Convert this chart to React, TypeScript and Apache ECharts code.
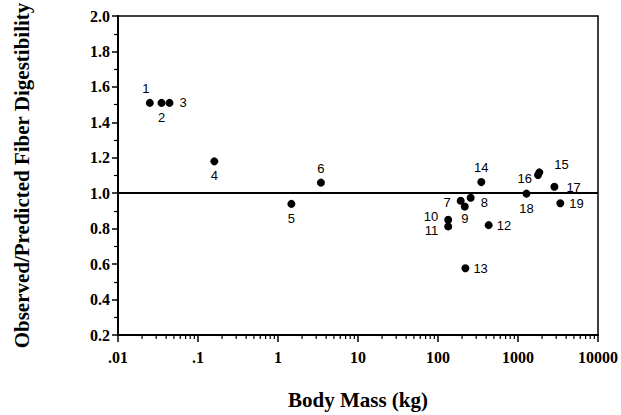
import React, { useEffect, useRef } from "react";
import * as echarts from "echarts";

const ids = ["1","2","3","4","5","6","7","8","9","10","11","12","13","14","15","16","17","18","19"];
const bodyMass = [0.025, 0.035, 0.044, 0.16, 1.47, 3.44, 192, 256, 216, 134, 134, 430, 220, 348, 1850, 1780, 2850, 1277, 3380];
const ratio = [1.51, 1.51, 1.51, 1.18, 0.94, 1.06, 0.958, 0.975, 0.925, 0.85, 0.813, 0.82, 0.577, 1.063, 1.118, 1.103, 1.037, 0.998, 0.944];
const xTickLabels: Record<string, string> = { "0.01": ".01", "0.1": ".1", "1": "1", "10": "10", "100": "100", "1000": "1000", "10000": "10000" };
const decades = [0.01, 0.1, 1, 10, 100, 1000];
const referenceValue = 1.0;

const labelPlacement: Record<string, { position: string; offset: number[] }> = {
  "1": { position: "top", offset: [-4, 0] },
  "2": { position: "bottom", offset: [0, 0] },
  "3": { position: "right", offset: [2, 0] },
  "4": { position: "bottom", offset: [0, 0] },
  "5": { position: "bottom", offset: [0, 0] },
  "6": { position: "top", offset: [0, 0] },
  "7": { position: "left", offset: [-2, 2] },
  "8": { position: "right", offset: [2, 5] },
  "9": { position: "bottom", offset: [0, -3] },
  "10": { position: "left", offset: [-2, -3] },
  "11": { position: "left", offset: [-2, 4] },
  "12": { position: "right", offset: [0, 0] },
  "13": { position: "right", offset: [0, 0] },
  "14": { position: "top", offset: [0, 0] },
  "15": { position: "right", offset: [7, -8] },
  "16": { position: "left", offset: [2, 4] },
  "17": { position: "right", offset: [4, 1] },
  "18": { position: "bottom", offset: [0, 0] },
  "19": { position: "right", offset: [1, 0] },
};

export default function App() {
  const ref = useRef<HTMLDivElement>(null);
  useEffect(() => {
    if (!ref.current) return;
    const chart = echarts.init(ref.current, null, { renderer: "svg" });
    const minorTickValues: number[] = [];
    decades.forEach((d) => {
      for (let k = 2; k <= 9; k++) minorTickValues.push(+(k * d).toPrecision(3));
    });
    const serif = "Liberation Serif";
    chart.setOption({
      animation: false,
      backgroundColor: "#fff",
      grid: { left: 118, right: 21, top: 15, bottom: 79, show: true, borderColor: "#000", borderWidth: 1.5, backgroundColor: "transparent" },
      xAxis: {
        type: "log",
        logBase: 10,
        min: 0.01,
        max: 10000,
        name: "Body Mass (kg)",
        nameLocation: "middle",
        nameGap: 54,
        nameTextStyle: { fontFamily: serif, fontWeight: "bold", fontSize: 21, color: "#000" },
        axisLine: { show: true, lineStyle: { color: "#000", width: 2 } },
        axisTick: { show: true, inside: false, length: 7, lineStyle: { color: "#000", width: 1.5 } },
        minorTick: { show: false },
        splitLine: { show: false },
        axisLabel: {
          fontFamily: serif, fontWeight: "bold", fontSize: 16, color: "#000", margin: 14,
          formatter: (v: number) => xTickLabels[String(v)] ?? String(v),
        },
      },
      yAxis: {
        type: "value",
        min: 0.2,
        max: 2.0,
        interval: 0.2,
        name: "Observed/Predicted Fiber Digestibility",
        nameLocation: "middle",
        nameGap: 86,
        nameTextStyle: { fontFamily: serif, fontWeight: "bold", fontSize: 21, color: "#000" },
        axisLine: { show: true, lineStyle: { color: "#000", width: 2 } },
        axisTick: { show: true, inside: false, length: 6, lineStyle: { color: "#000", width: 1.5 } },
        minorTick: { show: true, splitNumber: 2, length: 4, lineStyle: { color: "#000", width: 1.2 } },
        splitLine: { show: false },
        axisLabel: {
          fontFamily: serif, fontWeight: "bold", fontSize: 16, color: "#000", margin: 8,
          formatter: (v: number) => v.toFixed(1),
        },
      },
      series: [
        {
          type: "scatter",
          symbol: "circle",
          symbolSize: 8,
          itemStyle: { color: "#000", opacity: 1 },
          label: {
            show: true,
            distance: 4,
            fontFamily: "Liberation Sans",
            fontSize: 13,
            color: "#000",
            formatter: (p: any) => p.name,
          },
          data: ids.map((id, i) => ({
            value: [bodyMass[i], ratio[i]],
            name: id,
            label: {
              position: labelPlacement[id].position,
              offset: labelPlacement[id].offset,
              color: "#000",
            },
          })),
          markLine: {
            silent: true,
            symbol: "none",
            label: { show: false },
            lineStyle: { color: "#000", width: 1.8, type: "solid" },
            data: [{ yAxis: referenceValue }],
          },
          z: 3,
        },
        {
          type: "custom",
          clip: false,
          silent: true,
          data: minorTickValues.map((v) => [v, 0.2]),
          renderItem: (params: any, api: any) => {
            const p = api.coord([api.value(0), api.value(1)]);
            return {
              type: "line",
              shape: { x1: p[0], y1: p[1], x2: p[0], y2: p[1] + 4 },
              style: { stroke: "#000", lineWidth: 1.2 },
            };
          },
          z: 2,
        },
      ],
    });
    return () => chart.dispose();
  }, []);
  return <div ref={ref} style={{ position: "absolute", left: 0, top: 0, width: 621, height: 415 }} />;
}
